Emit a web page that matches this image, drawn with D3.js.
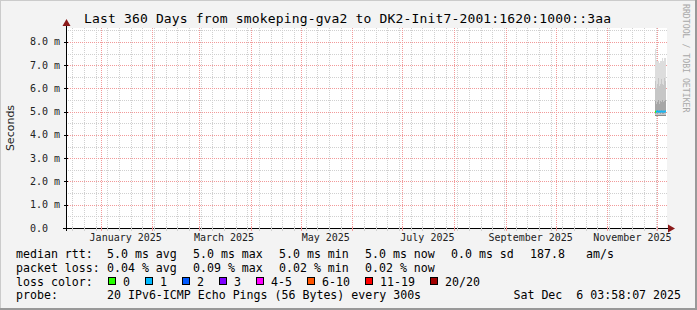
<!DOCTYPE html>
<html>
<head>
<meta charset="utf-8">
<script src="https://cdn.jsdelivr.net/npm/d3@7"></script>
<style>
  body { margin: 0; background: #f3f3f3; }
  svg text { white-space: pre; }
</style>
</head>
<body>
<div class="visualization"></div>
<script>
/*
Smokeping 360 day graph, redrawn with d3
*/

// ---- data ----
var titleText = "Last 360 Days from smokeping-gva2 to DK2-Init7-2001:1620:1000::3aa";
var rangeStart = "2024-12-11T03:58:07Z";
var rangeEnd = "2025-12-06T03:58:07Z";

var yTicks = [0, 1, 2, 3, 4, 5, 6, 7, 8];
var yTickLabels = ["0.0", "1.0 m", "2.0 m", "3.0 m", "4.0 m", "5.0 m", "6.0 m", "7.0 m", "8.0 m"];
var xLabelMonths = ["2025-01-01", "2025-03-01", "2025-05-01", "2025-07-01", "2025-09-01", "2025-11-01"];

// smoke bins (ms), one per ~14h at the end of the range
var smokeTimes = ["2025-11-29T14:00:00Z", "2025-11-30T04:00:00Z", "2025-11-30T18:00:00Z",
                  "2025-12-01T08:00:00Z", "2025-12-01T22:00:00Z", "2025-12-02T12:00:00Z",
                  "2025-12-03T02:00:00Z", "2025-12-03T16:00:00Z", "2025-12-04T06:00:00Z",
                  "2025-12-04T20:00:00Z", "2025-12-05T10:00:00Z", "2025-12-06T00:00:00Z"];
var pingMin = [4.80, 4.82, 4.80, 4.82, 4.81, 4.80, 4.82, 4.81, 4.80, 4.82, 4.81, 4.80];
var pingP10 = [4.85, 4.86, 4.86, 4.87, 4.86, 4.85, 4.86, 4.86, 4.85, 4.86, 4.86, 4.85];
var pingP25 = [4.92, 4.93, 4.92, 4.93, 4.93, 4.92, 4.93, 4.92, 4.92, 4.93, 4.93, 4.92];
var pingMedian = [5.00, 5.00, 5.02, 5.00, 5.01, 5.00, 5.02, 5.00, 5.01, 5.00, 5.02, 5.00];
var pingP75 = [5.45, 5.35, 5.40, 5.50, 5.35, 5.45, 5.40, 5.50, 5.40, 5.45, 5.50, 5.40];
var pingP90 = [6.30, 6.00, 6.20, 6.45, 6.10, 6.20, 6.40, 6.20, 6.15, 6.45, 6.30, 6.10];
var pingMax = [7.70, 7.20, 7.20, 7.20, 7.10, 7.20, 7.20, 7.30, 7.20, 7.30, 7.30, 7.10];
var medianLoss = [0, 1, 1, 1, 1, 1, 1, 1, 1, 1, 1, 1];

// legend
var lossLabels = ["0", "1", "2", "3", "4-5", "6-10", "11-19", "20/20"];
var lossColors = ["#26ff00", "#00b8ff", "#0059ff", "#7e00ff", "#ff00ff", "#ff5500", "#ff0000", "#a10000"];
var rttStats = ["5.0 ms avg", "5.0 ms max", "5.0 ms min", "5.0 ms now", "0.0 ms sd", "187.8", "am/s"];
var lossStats = ["0.04 % avg", "0.09 % max", "0.02 % min", "0.02 % now"];
var probeText = "20 IPv6-ICMP Echo Pings (56 Bytes) every 300s";
var stampText = "Sat Dec  6 03:58:07 2025";

// ---- layout ----
var W = 697, H = 310;
var plot = {left: 66, right: 666, top: 28, bottom: 228};
var mono = "DejaVu Sans Mono, monospace";

var svg = d3.select(".visualization").append("svg")
    .attr("width", W).attr("height", H)
    .style("display", "block");

// frame
svg.append("rect").attr("width", W).attr("height", H).attr("fill", "#f3f3f3");
svg.append("path").attr("d", "M0,0H" + W + "M0,0V" + H).attr("stroke", "#cbcbcb").attr("stroke-width", 2).attr("fill", "none");
svg.append("path").attr("d", "M" + W + ",0V" + H + "M0," + H + "H" + W).attr("stroke", "#999999").attr("stroke-width", 4).attr("fill", "none");

// canvas
svg.append("rect")
    .attr("x", plot.left).attr("y", plot.top)
    .attr("width", plot.right - plot.left + 1).attr("height", plot.bottom - plot.top)
    .attr("fill", "#ffffff");

var parse = d3.utcParse("%Y-%m-%dT%H:%M:%SZ");
var parseDay = d3.utcParse("%Y-%m-%d");
var t0 = parse(rangeStart), t1 = parse(rangeEnd);

var xScale = d3.scaleUtc().domain([t0, t1]).range([plot.left, plot.right]);
var yScale = d3.scaleLinear().domain([0, 8.6]).range([plot.bottom, plot.top]);

var grid = svg.append("g").attr("shape-rendering", "crispEdges");

// minor grid: weekly / half ms
var weeks = d3.utcSunday.range(t0, t1);
grid.selectAll(".vminor").data(weeks).enter().append("line")
    .attr("x1", function(d){ return Math.round(xScale(d)) + 0.5; })
    .attr("x2", function(d){ return Math.round(xScale(d)) + 0.5; })
    .attr("y1", plot.top).attr("y2", plot.bottom)
    .attr("stroke", "#d0d0d0").attr("stroke-dasharray", "1,1");
var halfTicks = d3.range(0.5, 8.6, 1);
grid.selectAll(".hminor").data(halfTicks).enter().append("line")
    .attr("x1", plot.left).attr("x2", plot.right + 1)
    .attr("y1", function(d){ return Math.round(yScale(d)) + 0.5; })
    .attr("y2", function(d){ return Math.round(yScale(d)) + 0.5; })
    .attr("stroke", "#d0d0d0").attr("stroke-dasharray", "1,1");

// major grid: months / whole ms
var months = d3.utcMonth.range(t0, t1);
grid.selectAll(".vmajor").data(months).enter().append("line")
    .attr("x1", function(d){ return Math.round(xScale(d)) + 0.5; })
    .attr("x2", function(d){ return Math.round(xScale(d)) + 0.5; })
    .attr("y1", plot.top).attr("y2", plot.bottom)
    .attr("stroke", "#f29a9a").attr("stroke-dasharray", "1,1");
grid.selectAll(".hmajor").data(yTicks.slice(1)).enter().append("line")
    .attr("x1", plot.left).attr("x2", plot.right + 1)
    .attr("y1", function(d){ return Math.round(yScale(d)) + 0.5; })
    .attr("y2", function(d){ return Math.round(yScale(d)) + 0.5; })
    .attr("stroke", "#f29a9a").attr("stroke-dasharray", "1,1");

// smoke
var smoke = smokeTimes.map(function(t, i){
    return {t: parse(t), min: pingMin[i], p10: pingP10[i], p25: pingP25[i],
            med: pingMedian[i], p75: pingP75[i], p90: pingP90[i], max: pingMax[i], loss: medianLoss[i]};
});
var last = Object.assign({}, smoke[smoke.length - 1], {t: t1});
var smokeSteps = smoke.concat([last]);

var bands = [
    {lo: "min", hi: "max", color: "#dddddd"},
    {lo: "p10", hi: "p90", color: "#c6c6c6"},
    {lo: "p25", hi: "p75", color: "#a6a6a6"},
    {lo: "min", hi: "p10", color: "#8a8a8a"}
];
bands.forEach(function(b){
    var area = d3.area()
        .x(function(d){ return xScale(d.t); })
        .y0(function(d){ return yScale(d[b.lo]); })
        .y1(function(d){ return yScale(d[b.hi]); })
        .curve(d3.curveStepAfter);
    svg.append("path").datum(smokeSteps)
        .attr("d", area)
        .attr("fill", b.color)
        .attr("shape-rendering", "crispEdges");
});

// median, coloured by loss
svg.append("g").selectAll("line").data(smoke).enter().append("line")
    .attr("x1", function(d){ return xScale(d.t); })
    .attr("x2", function(d, i){ return xScale(i < smoke.length - 1 ? smoke[i + 1].t : t1); })
    .attr("y1", function(d){ return yScale(d.med); })
    .attr("y2", function(d){ return yScale(d.med); })
    .attr("stroke", function(d){ return lossColors[d.loss]; })
    .attr("stroke-width", 2);

// axes
var axisG = svg.append("g").attr("shape-rendering", "crispEdges");
axisG.append("line")
    .attr("x1", plot.left - 3).attr("x2", plot.right + 4)
    .attr("y1", plot.bottom + 0.5).attr("y2", plot.bottom + 0.5)
    .attr("stroke", "#000");
axisG.append("line")
    .attr("x1", plot.left + 0.5).attr("x2", plot.left + 0.5)
    .attr("y1", plot.bottom + 3).attr("y2", plot.top - 4)
    .attr("stroke", "#000");
// y ticks
axisG.selectAll(".ytick").data(yTicks).enter().append("line")
    .attr("x1", plot.left - 2).attr("x2", plot.left + 2)
    .attr("y1", function(d){ return Math.round(yScale(d)) + 0.5; })
    .attr("y2", function(d){ return Math.round(yScale(d)) + 0.5; })
    .attr("stroke", "#000");
// x ticks
axisG.selectAll(".xminor").data(weeks).enter().append("line")
    .attr("x1", function(d){ return Math.round(xScale(d)) + 0.5; })
    .attr("x2", function(d){ return Math.round(xScale(d)) + 0.5; })
    .attr("y1", plot.bottom - 1).attr("y2", plot.bottom + 3)
    .attr("stroke", "#d0d0d0");
axisG.selectAll(".xmajor").data(months).enter().append("line")
    .attr("x1", function(d){ return Math.round(xScale(d)) + 0.5; })
    .attr("x2", function(d){ return Math.round(xScale(d)) + 0.5; })
    .attr("y1", plot.bottom - 2).attr("y2", plot.bottom + 3)
    .attr("stroke", "#f29a9a");
// arrows
svg.append("path")
    .attr("d", "M" + (plot.right + 2) + "," + (plot.bottom - 3.5) + "L" + (plot.right + 9) + "," + (plot.bottom + 0.5) + "L" + (plot.right + 2) + "," + (plot.bottom + 4.5) + "Z")
    .attr("fill", "#8b1a1a");
svg.append("path")
    .attr("d", "M" + (plot.left - 3.5) + "," + (plot.top - 2) + "L" + (plot.left + 0.5) + "," + (plot.top - 9) + "L" + (plot.left + 4.5) + "," + (plot.top - 2) + "Z")
    .attr("fill", "#8b1a1a");

// axis labels
svg.selectAll(".ylabel").data(yTicks).enter().append("text")
    .attr("x", 30)
    .attr("y", function(d){ return yScale(d) + 3.5; })
    .attr("font-family", mono).attr("font-size", 10)
    .attr("fill", "#222")
    .text(function(d, i){ return yTickLabels[i]; });

var labelFmt = d3.utcFormat("%B %Y");
svg.selectAll(".xlabel").data(xLabelMonths).enter().append("text")
    .attr("x", function(d){ return xScale(d3.utcDay.offset(parseDay(d), 15)); })
    .attr("y", 241)
    .attr("text-anchor", "middle")
    .attr("font-family", mono).attr("font-size", 10)
    .attr("fill", "#222")
    .text(function(d){ return labelFmt(parseDay(d)); });

svg.append("text")
    .attr("transform", "translate(14," + ((plot.top + plot.bottom) / 2) + ") rotate(-90)")
    .attr("text-anchor", "middle")
    .attr("font-family", "DejaVu Sans, sans-serif").attr("font-size", 11)
    .attr("fill", "#222")
    .text("Seconds");

// title
svg.append("text")
    .attr("x", 84).attr("y", 23)
    .attr("font-family", mono).attr("font-size", 13)
    .attr("textLength", 527).attr("lengthAdjust", "spacing")
    .attr("fill", "#000")
    .text(titleText);

// watermark
svg.append("text")
    .attr("transform", "translate(683,4) rotate(90)")
    .attr("font-family", mono).attr("font-size", 8.2)
    .attr("fill", "#a8a8a8")
    .text("RRDTOOL / TOBI OETIKER");

// legend
var legend = svg.append("g")
    .attr("font-family", mono).attr("font-size", 11.6).attr("fill", "#000");
var col = [107, 193, 279, 365, 451, 530, 586];
var rows = [258, 272, 286, 299];

legend.append("text").attr("x", 16).attr("y", rows[0]).text("median rtt:");
rttStats.forEach(function(s, i){
    legend.append("text").attr("x", col[i]).attr("y", rows[0]).text(s);
});
legend.append("text").attr("x", 16).attr("y", rows[1]).text("packet loss:");
lossStats.forEach(function(s, i){
    legend.append("text").attr("x", col[i]).attr("y", rows[1]).text(s);
});
legend.append("text").attr("x", 16).attr("y", rows[2]).text("loss color:");
var boxX = 108;
lossLabels.forEach(function(l, i){
    legend.append("rect")
        .attr("x", boxX + 0.5).attr("y", rows[2] - 8.5)
        .attr("width", 7).attr("height", 7)
        .attr("fill", lossColors[i]).attr("stroke", "#000")
        .attr("shape-rendering", "crispEdges");
    legend.append("text").attr("x", boxX + 15).attr("y", rows[2]).text(l);
    boxX += 15 + l.length * 7 + 15;
});
legend.append("text").attr("x", 16).attr("y", rows[3]).text("probe:");
legend.append("text").attr("x", 107).attr("y", rows[3]).text(probeText);
legend.append("text").attr("x", 681).attr("y", rows[3]).attr("text-anchor", "end").text(stampText);
</script>
</body>
</html>
